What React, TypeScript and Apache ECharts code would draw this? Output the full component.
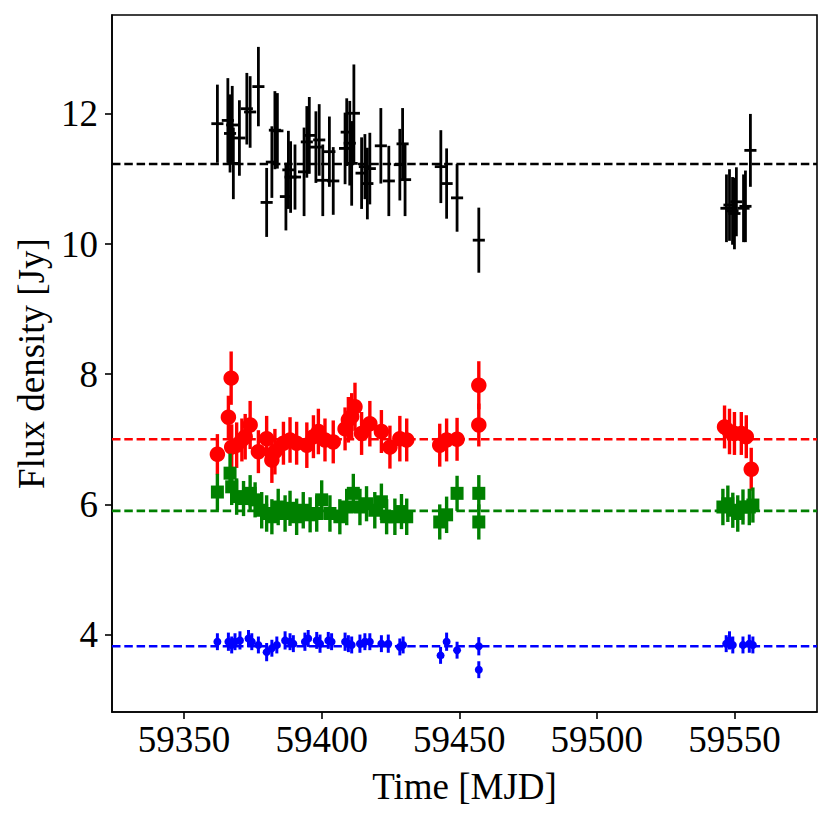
import React, { useEffect, useRef } from "react";
import * as echarts from "echarts";

// ---- axis ticks / limits ----
const xTicks = [59350, 59400, 59450, 59500, 59550];
const yTicks = [4, 6, 8, 10, 12];
const xMin = 59323.8;
const xMax = 59580;
const yMin = 2.81;
const yMax = 13.52;

// ---- black series (+ with x half-width) ----
const blackTime = [
  59362.1, 59365.9, 59366.7, 59367.5, 59367.9, 59370.1, 59372.8, 59374.0, 59377.0, 59380.0,
  59381.9, 59383.0, 59383.9, 59387.0, 59387.9, 59388.7, 59390.3, 59393.6, 59394.6, 59395.5,
  59397.9, 59399.1, 59400.4, 59402.8, 59404.2, 59408.5, 59409.1, 59410.2, 59410.9, 59411.7,
  59414.5, 59415.7, 59416.6, 59417.5, 59421.5, 59424.4, 59428.4, 59429.4, 59430.3, 59443.3,
  59445.4, 59449.2, 59457.1, 59547.1, 59548.2, 59549.3, 59550.0, 59550.7, 59553.3, 59554.0,
  59555.8,
];
const blackFlux = [
  11.85, 11.9, 11.7, 11.83, 11.24, 11.63, 12.08, 12.03, 12.42, 10.64,
  11.26, 11.75, 11.74, 10.73, 11.14, 11.03, 11.03, 11.11, 11.57, 11.67,
  11.49, 11.6, 10.98, 11.42, 10.97, 11.47, 11.72, 11.55, 11.24, 12.01,
  11.09, 11.19, 10.93, 11.16, 11.51, 10.97, 11.22, 11.54, 10.99, 11.19,
  10.93, 10.71, 10.06, 10.55, 10.6, 10.51, 10.47, 10.65, 10.55, 10.58,
  11.44,
];
const blackErr = [
  0.6, 0.65, 0.6, 0.6, 0.55, 0.58, 0.55, 0.55, 0.61, 0.53,
  0.55, 0.6, 0.58, 0.52, 0.6, 0.55, 0.5, 0.68, 0.55, 0.59,
  0.55, 0.55, 0.55, 0.54, 0.52, 0.55, 0.52, 0.65, 0.65, 0.75,
  0.55, 0.5, 0.55, 0.55, 0.58, 0.54, 0.55, 0.55, 0.56, 0.56,
  0.54, 0.52, 0.5, 0.52, 0.55, 0.52, 0.55, 0.53, 0.52, 0.55,
  0.56,
];
const blackTimeErr = 2.2;

// ---- red series (circles) ----
const redTime = [
  59362.1, 59366.1, 59367.1, 59367.3, 59369.1, 59371.0, 59372.2, 59374.0, 59377.0, 59380.0,
  59381.9, 59383.0, 59386.1, 59388.5, 59390.9, 59394.6, 59397.0, 59398.8, 59401.2, 59404.2,
  59408.5, 59409.7, 59410.9, 59412.1, 59414.5, 59417.5, 59421.7, 59424.8, 59428.4, 59430.9,
  59442.9, 59445.4, 59449.2, 59457.1, 59457.1, 59546.4, 59548.2, 59550.0, 59552.5, 59554.3,
  59556.1,
];
const redFlux = [
  6.77, 7.34, 7.94, 6.88, 6.91, 6.99, 7.04, 7.22, 6.81, 7.01,
  6.68, 6.81, 6.94, 6.99, 6.94, 6.91, 7.04, 7.12, 6.99, 6.96,
  7.16, 7.3, 7.35, 7.5, 7.09, 7.24, 7.12, 6.88, 7.01, 6.99,
  6.91, 6.99, 7.0, 7.83, 7.22, 7.19, 7.12, 7.09, 7.09, 7.04,
  6.54,
];
const redErr = [
  0.31, 0.33, 0.41, 0.35, 0.35, 0.33, 0.35, 0.37, 0.33, 0.35,
  0.35, 0.35, 0.33, 0.35, 0.33, 0.35, 0.33, 0.35, 0.33, 0.33,
  0.33, 0.35, 0.36, 0.37, 0.33, 0.35, 0.33, 0.33, 0.35, 0.33,
  0.33, 0.33, 0.33, 0.37, 0.33, 0.33, 0.35, 0.33, 0.33, 0.33,
  0.33,
];

// ---- green series (squares) ----
const greenTime = [
  59362.1, 59366.7, 59367.3, 59369.1, 59371.6, 59374.0, 59375.8, 59378.2, 59380.0, 59381.9,
  59384.2, 59386.7, 59388.5, 59390.9, 59393.3, 59395.8, 59398.2, 59400.0, 59403.0, 59406.6,
  59409.1, 59411.5, 59413.9, 59416.3, 59419.3, 59421.7, 59423.6, 59426.6, 59429.0, 59430.9,
  59442.9, 59445.4, 59449.2, 59457.1, 59457.1, 59545.8, 59547.6, 59549.4, 59551.2, 59553.1,
  59555.4, 59556.7,
];
const greenFlux = [
  6.19, 6.48, 6.27, 6.12, 6.09, 6.17, 6.07, 5.91, 5.86, 5.81,
  5.96, 5.86, 5.94, 5.81, 5.91, 5.84, 5.86, 6.07, 5.86, 5.81,
  5.96, 6.17, 5.96, 6.01, 5.91, 6.04, 5.81, 5.81, 5.89, 5.81,
  5.73, 5.84, 6.17, 6.17, 5.73, 5.96, 6.01, 5.91, 5.86, 5.96,
  5.96, 5.99,
];
const greenErr = [
  0.28, 0.3, 0.28, 0.28, 0.27, 0.28, 0.27, 0.28, 0.28, 0.27,
  0.28, 0.28, 0.27, 0.28, 0.28, 0.27, 0.28, 0.3, 0.28, 0.27,
  0.28, 0.3, 0.28, 0.27, 0.28, 0.28, 0.27, 0.28, 0.27, 0.28,
  0.27, 0.28, 0.27, 0.28, 0.27, 0.28, 0.28, 0.27, 0.28, 0.27,
  0.28, 0.27,
];

// ---- blue series (dots) ----
const blueTime = [
  59362.1, 59366.1, 59367.3, 59368.5, 59370.3, 59373.4, 59374.6, 59377.0, 59380.0, 59381.9,
  59383.7, 59386.7, 59388.5, 59389.7, 59393.9, 59395.1, 59398.2, 59399.4, 59402.4, 59403.6,
  59408.5, 59409.7, 59410.9, 59413.9, 59415.7, 59417.5, 59421.7, 59424.2, 59428.4, 59429.6,
  59443.2, 59445.4, 59449.2, 59457.1, 59457.1, 59547.0, 59548.2, 59549.4, 59553.1, 59555.4,
  59556.7,
];
const blueFlux = [
  3.89, 3.89, 3.84, 3.89, 3.91, 3.94, 3.89, 3.84, 3.73, 3.79,
  3.84, 3.91, 3.89, 3.86, 3.89, 3.94, 3.91, 3.86, 3.91, 3.89,
  3.89, 3.86, 3.84, 3.86, 3.89, 3.89, 3.86, 3.86, 3.81, 3.84,
  3.68, 3.89, 3.76, 3.82, 3.46, 3.86, 3.91, 3.84, 3.84, 3.86,
  3.84,
];
const blueErr = [
  0.13, 0.14, 0.13, 0.13, 0.14, 0.13, 0.13, 0.13, 0.14, 0.13,
  0.13, 0.14, 0.13, 0.13, 0.14, 0.13, 0.13, 0.14, 0.13, 0.13,
  0.14, 0.13, 0.13, 0.14, 0.13, 0.13, 0.13, 0.14, 0.13, 0.13,
  0.13, 0.14, 0.13, 0.14, 0.13, 0.13, 0.14, 0.13, 0.13, 0.14,
  0.13,
];

// ---- weighted means (dashed lines) ----
const meanNames = ["black", "red", "green", "blue"];
const meanValues = [11.23, 7.0, 5.9, 3.82];
const colors = ["#000000", "#ff0000", "#008000", "#0000ff"];

const FONT = "Liberation Serif";

function errSeries(
  name: string,
  time: number[],
  flux: number[],
  err: number[],
  xerr: number,
  color: string,
  width: number,
  z: number
) {
  return {
    type: "custom",
    name,
    z,
    silent: true,
    clip: true,
    data: time.map((t, i) => [t, flux[i], err[i], xerr]),
    encode: { x: 0, y: 1 },
    renderItem: (params: any, api: any) => {
      const x = api.value(0);
      const y = api.value(1);
      const e = api.value(2);
      const xe = api.value(3);
      const top = api.coord([x, y + e]);
      const bot = api.coord([x, y - e]);
      const children: any[] = [
        {
          type: "line",
          shape: { x1: top[0], y1: top[1], x2: bot[0], y2: bot[1] },
          style: { stroke: color, lineWidth: width },
        },
      ];
      if (xe > 0) {
        const l = api.coord([x - xe, y]);
        const r = api.coord([x + xe, y]);
        children.push({
          type: "line",
          shape: { x1: l[0], y1: l[1], x2: r[0], y2: r[1] },
          style: { stroke: color, lineWidth: width },
        });
      }
      return { type: "group", children };
    },
  };
}

function markerSeries(
  time: number[],
  flux: number[],
  symbol: string,
  size: number,
  color: string,
  z: number
) {
  return {
    type: "scatter",
    z,
    silent: true,
    symbol,
    symbolSize: size,
    itemStyle: { color, opacity: 1 },
    data: time.map((t, i) => [t, flux[i]]),
  };
}

export default function App() {
  const ref = useRef<HTMLDivElement>(null);
  useEffect(() => {
    if (!ref.current) return;
    const chart = echarts.init(ref.current, undefined, { renderer: "svg" });
    const meanSeries = meanValues.map((m, i) => ({
      type: "line",
      name: meanNames[i] + " mean",
      z: 1,
      silent: true,
      symbol: "none",
      lineStyle: { color: colors[i], width: 2.6, type: [8.5, 3.8] },
      data: [
        [xMin, m],
        [xMax, m],
      ],
    }));
    chart.setOption({
      animation: false,
      backgroundColor: "#ffffff",
      grid: {
        left: 112,
        top: 15,
        right: 14,
        bottom: 114,
        show: true,
        borderColor: "#000",
        borderWidth: 1.6,
        backgroundColor: "transparent",
      },
      xAxis: {
        type: "value",
        min: xMin,
        max: xMax,
        name: "Time [MJD]",
        nameLocation: "middle",
        nameGap: 56,
        nameTextStyle: { fontFamily: FONT, fontSize: 37, color: "#000" },
        axisLine: { show: true, onZero: false, lineStyle: { color: "#000", width: 1.6 } },
        axisTick: {
          show: true,
          inside: false,
          length: 7,
          customValues: xTicks,
          lineStyle: { color: "#000", width: 1.6 },
        },
        axisLabel: {
          customValues: xTicks,
          formatter: (v: number) => String(v),
          margin: 9,
          fontFamily: FONT,
          fontSize: 37,
          color: "#000",
        },
        splitLine: { show: false },
      },
      yAxis: {
        type: "value",
        min: yMin,
        max: yMax,
        name: "Flux density [Jy]",
        nameLocation: "middle",
        nameGap: 60,
        nameTextStyle: { fontFamily: FONT, fontSize: 37, color: "#000" },
        axisLine: { show: true, onZero: false, lineStyle: { color: "#000", width: 1.6 } },
        axisTick: {
          show: true,
          inside: false,
          length: 7,
          customValues: yTicks,
          lineStyle: { color: "#000", width: 1.6 },
        },
        axisLabel: {
          customValues: yTicks,
          formatter: (v: number) => String(v),
          margin: 14,
          fontFamily: FONT,
          fontSize: 37,
          color: "#000",
        },
        splitLine: { show: false },
      },
      series: [
        ...meanSeries,
        errSeries("black", blackTime, blackFlux, blackErr, blackTimeErr, colors[0], 2.8, 2),
        errSeries("red", redTime, redFlux, redErr, 0, colors[1], 3.4, 3),
        markerSeries(redTime, redFlux, "circle", 15.5, colors[1], 4),
        errSeries("green", greenTime, greenFlux, greenErr, 0, colors[2], 3.4, 5),
        markerSeries(greenTime, greenFlux, "rect", 13, colors[2], 6),
        errSeries("blue", blueTime, blueFlux, blueErr, 0, colors[3], 3, 7),
        markerSeries(blueTime, blueFlux, "circle", 8, colors[3], 8),
      ],
    });
    return () => chart.dispose();
  }, []);
  return (
    <div
      ref={ref}
      style={{ position: "fixed", left: 0, top: 0, width: 831, height: 826 }}
    />
  );
}
